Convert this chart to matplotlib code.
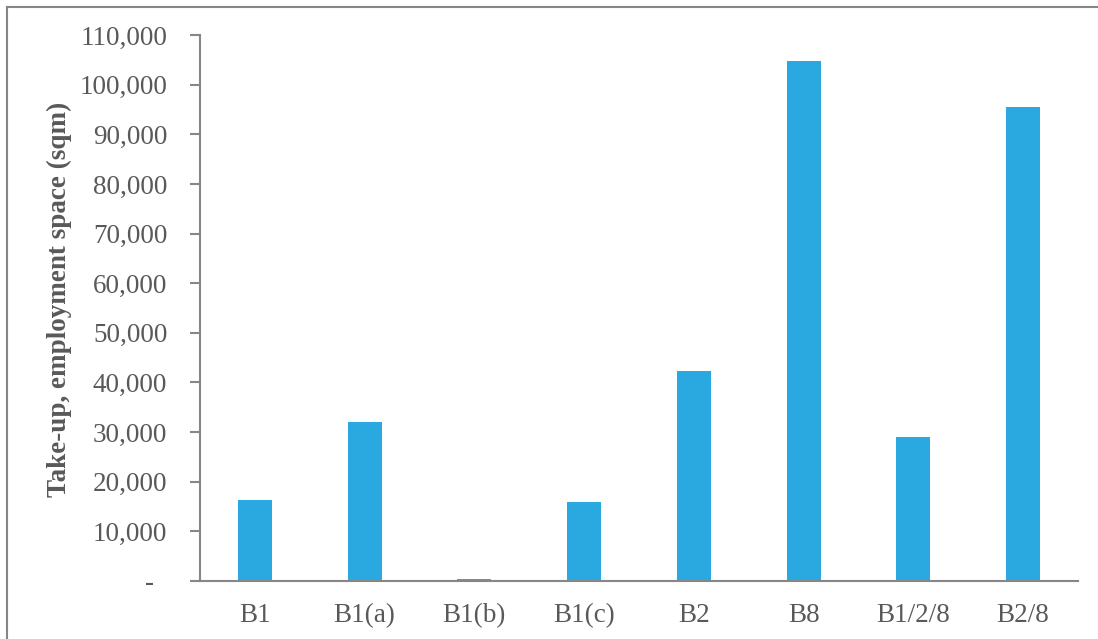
import matplotlib
matplotlib.use("Agg")
import matplotlib.pyplot as plt
from matplotlib.lines import Line2D
from matplotlib.ticker import FuncFormatter

# data
categories = ["B1", "B1(a)", "B1(b)", "B1(c)", "B2", "B8", "B1/2/8", "B2/8"]
take_up = [16400, 32000, 350, 16000, 42400, 104700, 29000, 95500]
y_ticks = list(range(0, 110001, 10000))

bar_color = "#29A9E0"
text_color = "#595959"
axis_color = "#868686"

plt.rcParams["font.family"] = ["Liberation Serif", "DejaVu Serif"]

fig = plt.figure(figsize=(10.98, 6.39), dpi=100)
ax = fig.add_axes([200 / 1098, 1 - 581 / 639, 878 / 1098, 546 / 639])

x = range(len(categories))
ax.bar(x, take_up, width=0.31, color=bar_color, zorder=2)

ax.set_xlim(-0.5, len(categories) - 0.5)
ax.set_ylim(0, 110000)
ax.set_xticks(list(x))
ax.set_xticklabels(categories)
ax.set_yticks(y_ticks)


def fmt(v, pos):
    if v == 0:
        return "-  "
    return f"{int(v):,}"


ax.yaxis.set_major_formatter(FuncFormatter(fmt))

ax.tick_params(axis="y", length=7, width=1.5, color=axis_color, labelcolor=text_color,
               labelsize=19.5, pad=16.5)
ax.tick_params(axis="x", length=0, labelcolor=text_color, labelsize=19.5, pad=16)

for side in ["top", "right"]:
    ax.spines[side].set_visible(False)
for side in ["left", "bottom"]:
    ax.spines[side].set_color(axis_color)
    ax.spines[side].set_linewidth(1.5)

ax.set_ylabel("Take-up, employment space (sqm)", fontsize=19.5, fontweight="bold",
              color=text_color)
ax.yaxis.set_label_coords(-128 / 878, 0.515)

# outer chart border (only left and top edges visible in the crop)
fig.add_artist(Line2D([6.5 / 1098, 6.5 / 1098], [0, 1 - 6.5 / 639],
                      transform=fig.transFigure, color=axis_color, lw=1.5))
fig.add_artist(Line2D([6.5 / 1098, 1], [1 - 6.5 / 639, 1 - 6.5 / 639],
                      transform=fig.transFigure, color=axis_color, lw=1.5))

fig.savefig("out.png", dpi=100)
